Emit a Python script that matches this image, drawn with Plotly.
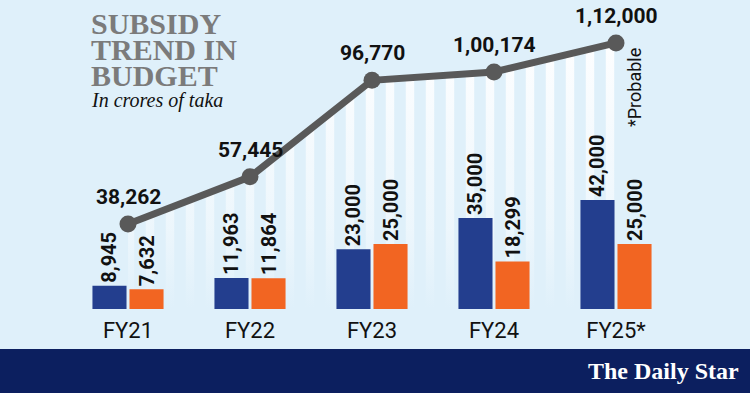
import plotly.graph_objects as go

# ---------------- data ----------------
years = ["FY21", "FY22", "FY23", "FY24", "FY25*"]
series_blue = [8945, 11963, 23000, 35000, 42000]
series_orange = [7632, 11864, 25000, 18299, 25000]
blue_labels = ["8,945", "11,963", "23,000", "35,000", "42,000"]
orange_labels = ["7,632", "11,864", "25,000", "18,299", "25,000"]
total_subsidy = [38262, 57445, 96770, 100174, 112000]
total_labels = ["38,262", "57,445", "96,770", "1,00,174", "1,12,000"]

# ---------------- style ----------------
W, H = 750, 393
PLOT_BOTTOM = 309          # pixel row of the bar baseline
BG = "#dff0fa"
BLUE = "#233e8e"
ORANGE = "#f26522"
LINE = "#595959"
NAVY = "#0c1f5f"
SANS = "Roboto, DejaVu Sans, sans-serif"
SERIF = "Liberation Serif, DejaVu Serif, serif"

xpos = list(range(len(years)))


def px(x):
    return x / W


def py(y):
    return (PLOT_BOTTOM - y) / PLOT_BOTTOM


fig = go.Figure()

# striped area under the total line (base axis y)
fig.add_trace(go.Scatter(
    x=xpos, y=total_subsidy, yaxis="y", mode="lines",
    line=dict(width=0, color="rgba(0,0,0,0)"),
    fill="tozeroy", fillcolor="rgba(0,0,0,0)",
    fillpattern=dict(shape="|", size=20, solidity=0.42,
                     fgcolor="white", fgopacity=0.95,
                     bgcolor="rgba(0,0,0,0)"),
    hoverinfo="skip", showlegend=False,
))
# fade the stripes toward the bottom
fig.add_trace(go.Scatter(
    x=xpos, y=total_subsidy, yaxis="y", mode="lines",
    line=dict(width=0, color="rgba(0,0,0,0)"),
    fill="tozeroy",
    fillgradient=dict(type="vertical", start=3600, stop=112000,
                      colorscale=[[0, "rgba(223,240,250,1)"],
                                  [0.3, "rgba(223,240,250,0.55)"],
                                  [1, "rgba(223,240,250,0)"]]),
    hoverinfo="skip", showlegend=False,
))

label_font = dict(family=SANS, size=20, color="#111111", weight="bold")

# bars (overlay axis y2)
fig.add_trace(go.Bar(
    x=xpos, y=series_blue, yaxis="y2", marker=dict(color=BLUE, line=dict(width=0)),
    text=blue_labels, textposition="outside", textangle=-90,
    textfont=label_font, cliponaxis=False, showlegend=False, constraintext="none",
    hoverinfo="skip",
))
fig.add_trace(go.Bar(
    x=xpos, y=series_orange, yaxis="y2", marker=dict(color=ORANGE, line=dict(width=0)),
    text=orange_labels, textposition="outside", textangle=-90,
    textfont=label_font, cliponaxis=False, showlegend=False, constraintext="none",
    hoverinfo="skip",
))

# total line (overlay axis y3)
fig.add_trace(go.Scatter(
    x=xpos, y=total_subsidy, yaxis="y3", mode="lines+markers",
    line=dict(color=LINE, width=7),
    marker=dict(color=LINE, size=17),
    cliponaxis=False, showlegend=False, hoverinfo="skip",
))

annotations = []
for xv, yv, lab in zip(xpos, total_subsidy, total_labels):
    annotations.append(dict(
        x=xv, y=yv, xref="x", yref="y3", text=f"<b>{lab}</b>",
        showarrow=False, yshift=27,
        font=dict(family=SANS, size=21, color="#111111"),
    ))

# title block
for txt, yc in [("SUBSIDY", 24), ("TREND IN", 50), ("BUDGET", 76)]:
    annotations.append(dict(
        x=px(89), y=py(yc), xref="paper", yref="paper", xanchor="left",
        yanchor="middle", text=f"<b>{txt}</b>", showarrow=False,
        font=dict(family=SERIF, size=30, color="#7b7b7b"),
    ))
annotations.append(dict(
    x=px(89), y=py(100), xref="paper", yref="paper", xanchor="left",
    yanchor="middle", text="<i>In crores of taka</i>", showarrow=False,
    font=dict(family=SERIF, size=20, color="#111111"),
))
annotations.append(dict(
    x=px(635), y=py(88), xref="paper", yref="paper", xanchor="center",
    yanchor="middle", text="*Probable", textangle=-90, showarrow=False,
    font=dict(family=SANS, size=18, color="#111111"),
))
annotations.append(dict(
    x=px(663), y=py(371), xref="paper", yref="paper", xanchor="center",
    yanchor="middle", text="<b>The Daily Star</b>", showarrow=False,
    font=dict(family=SERIF, size=24, color="white"),
))

shapes = [dict(type="rect", xref="paper", yref="paper",
               x0=0, x1=1, y0=py(H + 2), y1=py(349),
               fillcolor=NAVY, line=dict(width=0), layer="above")]

fig.update_layout(
    width=W, height=H, autosize=False,
    margin=dict(l=0, r=0, t=0, b=H - PLOT_BOTTOM, pad=0),
    paper_bgcolor=BG, plot_bgcolor=BG,
    barmode="group", bargap=0.393, bargroupgap=0.08,
    hovermode=False,
    xaxis=dict(range=[-128 / 122, (W - 128) / 122], tickvals=xpos, ticktext=years,
               showgrid=False, zeroline=False, showline=False,
               ticks="outside", ticklen=0, ticklabelstandoff=2,
               tickfont=dict(family=SANS, size=22, color="#111111")),
    yaxis=dict(range=[3600, 129500], visible=False, showgrid=False, zeroline=False),
    yaxis2=dict(range=[0, 119000], overlaying="y", visible=False,
                showgrid=False, zeroline=False),
    yaxis3=dict(range=[3600, 129500], overlaying="y", visible=False,
                showgrid=False, zeroline=False),
    annotations=annotations, shapes=shapes,
    showlegend=False,
)

fig.write_html("out.html", config={"displayModeBar": False},
               post_script="document.body.style.margin='0';")
